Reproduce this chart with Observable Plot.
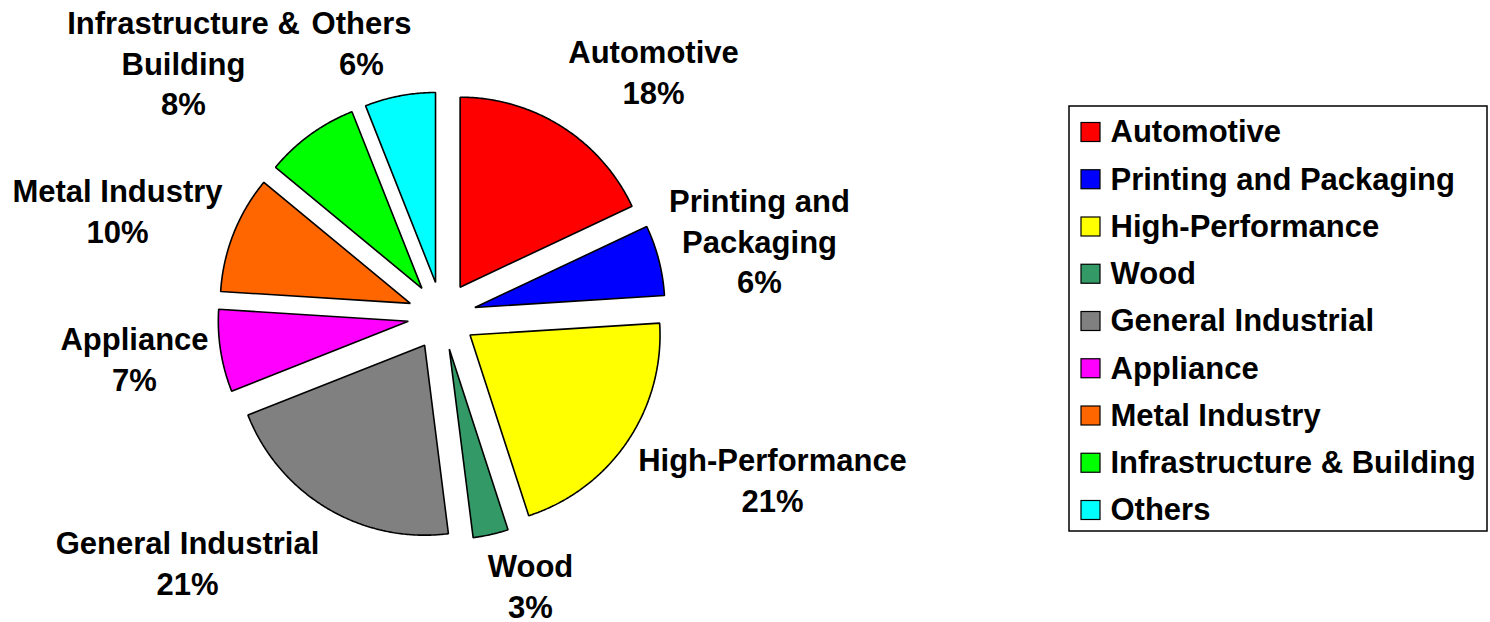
<!DOCTYPE html>
<html>
<head>
<meta charset="utf-8">
<script src="https://cdn.jsdelivr.net/npm/d3@7"></script>
<script src="https://cdn.jsdelivr.net/npm/@observablehq/plot@0.6"></script>
<style>
  html, body { margin: 0; padding: 0; background: #fff; }
  #chart svg { display: block; }
</style>
</head>
<body>
<div id="chart"></div>
<script>
// ---- data ----
const categories = ["Automotive", "Printing and Packaging", "High-Performance", "Wood", "General Industrial", "Appliance", "Metal Industry", "Infrastructure & Building", "Others"];
const shares = [18, 6, 21, 3, 21, 7, 10, 8, 6];
const labelNames = ["Automotive", "Printing and\nPackaging", "High-Performance", "Wood", "General Industrial", "Appliance", "Metal Industry", "Infrastructure &\nBuilding", "Others"];
const colors = ["#FF0000", "#0000FF", "#FFFF00", "#339966", "#808080", "#FF00FF", "#FF6600", "#00FF00", "#00FFFF"];

// ---- layout (pixel space of the 1490x622 canvas) ----
const W = 1490, H = 622;
const cx = 441.4, cy = 315.4, R = 190, explode = 34;
const labelAt = [[653, 70], [759, 239], [772, 478], [530, 584], [187, 561], [134, 357], [117, 209], [183, 61], [361, 41]];
const legendBox = {x1: 1069, x2: 1487, y1: 106, y2: 531};
const legendRow0 = 132, legendStep = 47.25;
const font = "'Liberation Sans', Arial, Helvetica, sans-serif";

// ---- slice geometry from the values ----
const arcs = d3.pie().sort(null).value(d => d)(shares);
const slicePts = [];
arcs.forEach((a, i) => {
  const cat = categories[i];
  const mid = (a.startAngle + a.endAngle) / 2;
  const ox = cx + explode * Math.sin(mid), oy = cy - explode * Math.cos(mid);
  slicePts.push({cat, x: ox, y: oy});
  const n = Math.max(2, Math.ceil((a.endAngle - a.startAngle) / (Math.PI / 360)));
  for (let k = 0; k <= n; k++) {
    const t = a.startAngle + (a.endAngle - a.startAngle) * k / n;
    slicePts.push({cat, x: ox + R * Math.sin(t), y: oy - R * Math.cos(t)});
  }
});

const labels = categories.map((c, i) => ({
  cat: c,
  text: labelNames[i] + "\n" + shares[i] + "%",
  x: labelAt[i][0],
  y: labelAt[i][1]
}));

const legendRows = categories.map((c, i) => ({cat: c, y: legendRow0 + i * legendStep}));

const chart = Plot.plot({
  width: W,
  height: H,
  margin: 0,
  style: {background: "white", fontFamily: font, overflow: "visible"},
  x: {domain: [0, W], range: [0, W], axis: null},
  y: {domain: [0, H], range: [0, H], axis: null},
  color: {domain: categories, range: colors},
  marks: [
    Plot.line(slicePts, {
      x: "x", y: "y", z: "cat", fill: "cat",
      stroke: "black", strokeWidth: 1.6, curve: "linear-closed",
      strokeLinejoin: "miter", strokeLinecap: "butt"
    }),
    Plot.text(labels, {
      x: "x", y: "y", text: "text",
      fontSize: 31, fontWeight: "bold", fontFamily: font,
      lineHeight: 1.31, lineAnchor: "middle", textAnchor: "middle", fill: "black"
    }),
    Plot.rect([legendBox], {
      x1: "x1", x2: "x2", y1: "y1", y2: "y2",
      fill: "none", stroke: "black", strokeWidth: 1.5
    }),
    Plot.rect(legendRows, {
      x1: () => 1081, x2: () => 1100,
      y1: d => d.y - 9.5, y2: d => d.y + 9.5,
      fill: "cat", stroke: "black", strokeWidth: 1.2
    }),
    Plot.text(legendRows, {
      x: () => 1110, y: "y", text: "cat",
      textAnchor: "start", fontSize: 31, fontWeight: "bold", fontFamily: font, fill: "black"
    })
  ]
});
document.getElementById("chart").appendChild(chart);
</script>
</body>
</html>
